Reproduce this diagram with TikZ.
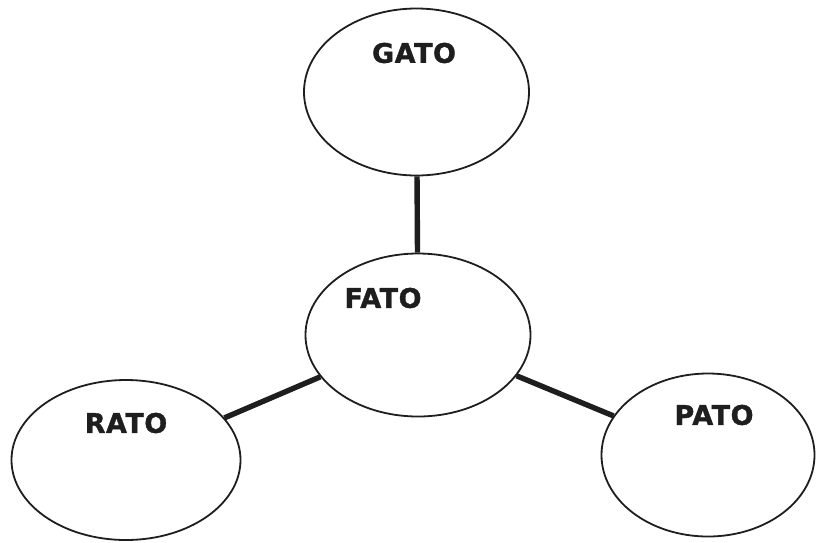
\documentclass[tikz,border=0pt]{standalone}
\usepackage{fontspec}
\setsansfont{DejaVu Sans}[BoldFeatures={FakeBold=1.2,LetterSpace=2}]
\usetikzlibrary{shapes.geometric}
\definecolor{ink}{HTML}{1E1E1E}
\begin{document}
\begin{tikzpicture}[x=1pt,y=-1pt,
  bubble/.style={draw=ink,line width=1.8pt,ellipse,inner sep=0pt,fill=white},
  word/.style={font=\sffamily\bfseries\fontsize{27}{27}\selectfont,text=ink,inner sep=0pt},
  link/.style={draw=ink,line width=5.4pt}]
  \useasboundingbox[fill=white] (0,0) rectangle (816,542);
  % the four word bubbles
  \node[bubble,minimum width=225pt,minimum height=167pt] (gato) at (416.5,92) {};
  \node[bubble,minimum width=225pt,minimum height=163pt] (fato) at (418,335) {};
  \node[bubble,minimum width=229pt,minimum height=160pt] (rato) at (126,460) {};
  \node[bubble,minimum width=213pt,minimum height=163pt] (pato) at (708,455) {};
  % connectors from the central bubble
  \draw[link] (gato) -- (fato);
  \draw[link] (fato) -- (rato);
  \draw[link] (fato) -- (pato);
  % labels
  \node[word] (tgato) at (414,53) {GATO};
  \node[word] (tfato) at (383,298) {FATO};
  \node[word] (trato) at (126,423) {RATO};
  \node[word] (tpato) at (714,415) {PATO};
\end{tikzpicture}
\end{document}
